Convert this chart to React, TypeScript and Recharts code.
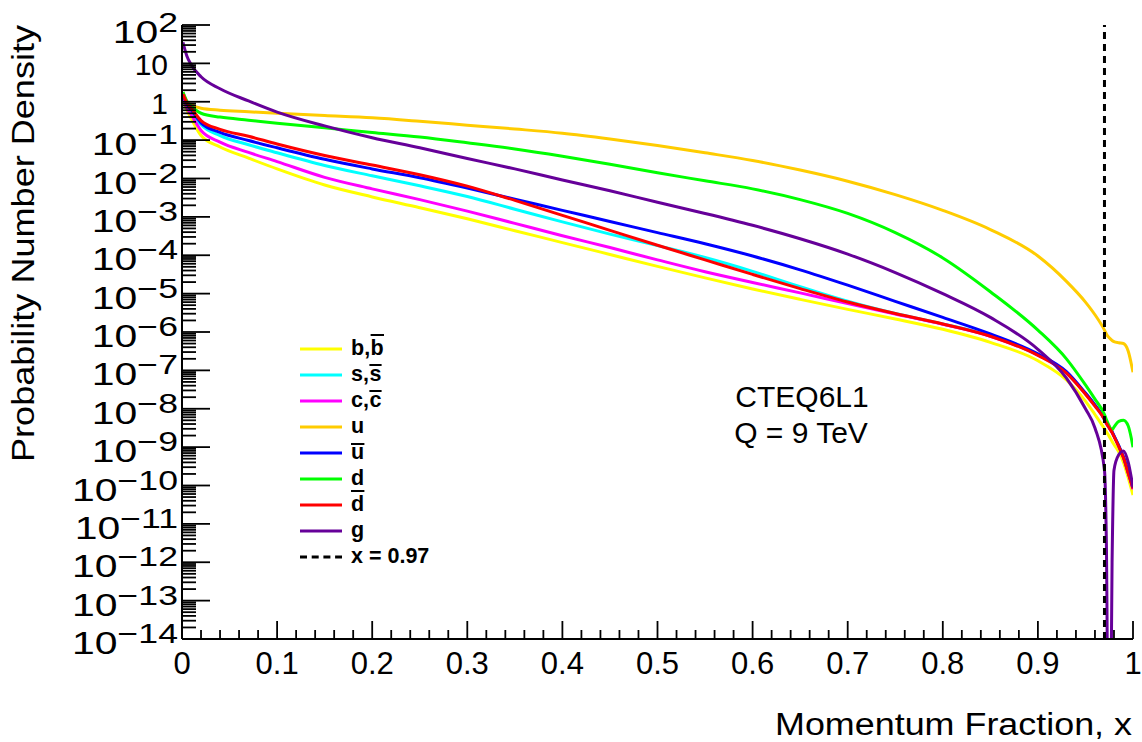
import React from 'react';
import { LineChart, Line, XAxis, YAxis, ReferenceLine, Legend, Customized } from 'recharts';

const FONT = '"Liberation Sans", Arial, Helvetica, sans-serif';

// momentum fraction x
const X = [0.001, 0.005, 0.01, 0.02, 0.04, 0.07, 0.1, 0.15, 0.2, 0.25, 0.3, 0.35, 0.4, 0.45, 0.5, 0.55, 0.6, 0.65, 0.7, 0.75, 0.8, 0.85, 0.9, 0.93, 0.95, 0.96, 0.97, 0.972, 0.975, 0.978, 0.98, 0.985, 0.99, 0.995, 1.0];

// log10 of the probability number density
const B_BAR = [0.1, -0.2, -0.45, -0.88, -1.18, -1.47, -1.75, -2.17, -2.48, -2.76, -3.05, -3.36, -3.67, -3.98, -4.29, -4.59, -4.88, -5.15, -5.41, -5.66, -5.93, -6.27, -6.75, -7.25, -7.8, -8.15, -8.52, -8.6, -8.72, -8.85, -8.93, -9.12, -9.4, -9.8, -10.25];
const S_BAR = [0.15, -0.1, -0.27, -0.6, -0.88, -1.12, -1.33, -1.66, -1.93, -2.19, -2.47, -2.8, -3.13, -3.45, -3.75, -4.06, -4.42, -4.82, -5.2, -5.52, -5.79, -6.1, -6.6, -7.05, -7.6, -7.91, -8.27, -8.37, -8.49, -8.61, -8.71, -8.97, -9.27, -9.66, -10.08];
const C_BAR = [0.12, -0.15, -0.35, -0.75, -1.05, -1.32, -1.56, -1.97, -2.27, -2.55, -2.85, -3.17, -3.49, -3.8, -4.12, -4.43, -4.71, -4.98, -5.26, -5.53, -5.8, -6.11, -6.6, -7.06, -7.61, -7.92, -8.28, -8.38, -8.5, -8.62, -8.72, -8.98, -9.28, -9.68, -10.1];
const U = [0.25, 0.0, -0.08, -0.17, -0.22, -0.26, -0.3, -0.36, -0.42, -0.51, -0.61, -0.71, -0.82, -0.97, -1.14, -1.33, -1.53, -1.78, -2.07, -2.42, -2.83, -3.33, -4.02, -4.68, -5.22, -5.55, -5.95, -6.05, -6.15, -6.22, -6.25, -6.28, -6.3, -6.5, -7.05];
const U_BAR = [0.18, -0.05, -0.22, -0.55, -0.8, -1.01, -1.2, -1.5, -1.75, -1.98, -2.25, -2.54, -2.83, -3.12, -3.41, -3.7, -4.02, -4.38, -4.78, -5.2, -5.62, -6.05, -6.57, -7.03, -7.59, -7.9, -8.26, -8.36, -8.48, -8.6, -8.7, -8.96, -9.26, -9.66, -10.06];
const D = [0.25, 0.02, -0.12, -0.3, -0.4, -0.48, -0.56, -0.68, -0.8, -0.92, -1.07, -1.23, -1.42, -1.63, -1.85, -2.06, -2.27, -2.55, -2.91, -3.41, -4.07, -4.95, -5.95, -6.7, -7.38, -7.75, -8.15, -8.28, -8.45, -8.55, -8.48, -8.33, -8.3, -8.45, -9.0];
const D_BAR = [0.2, -0.02, -0.18, -0.49, -0.72, -0.9, -1.1, -1.4, -1.65, -1.9, -2.2, -2.57, -2.96, -3.35, -3.74, -4.12, -4.5, -4.87, -5.22, -5.52, -5.79, -6.11, -6.61, -7.07, -7.62, -7.93, -8.28, -8.38, -8.5, -8.62, -8.72, -8.98, -9.28, -9.68, -10.08];
const GLUON = [1.55, 1.2, 0.95, 0.65, 0.34, 0.02, -0.27, -0.63, -0.94, -1.2, -1.48, -1.75, -2.04, -2.32, -2.62, -2.91, -3.22, -3.57, -3.97, -4.45, -5.0, -5.62, -6.45, -7.2, -8.0, -8.5, -9.6, -11.5, -20, -12, -9.6, -9.2, -9.1, -9.4, -10.05];

const SERIES = [
  { key: 'bb', vals: B_BAR, color: '#ffff00', parts: [{ t: 'b,', w: 19.6 }, { t: 'b', w: 13.4, bar: -14 }] },
  { key: 'sb', vals: S_BAR, color: '#00ffff', parts: [{ t: 's,', w: 18.4 }, { t: 's', w: 12.2, bar: -10 }] },
  { key: 'cb', vals: C_BAR, color: '#ff00ff', parts: [{ t: 'c,', w: 18.4 }, { t: 'c', w: 12.2, bar: -10 }] },
  { key: 'u', vals: U, color: '#ffcc00', parts: [{ t: 'u', w: 13.4 }] },
  { key: 'ub', vals: U_BAR, color: '#0000ff', parts: [{ t: 'u', w: 13.4, bar: -9 }] },
  { key: 'd', vals: D, color: '#00ff00', parts: [{ t: 'd', w: 13.4 }] },
  { key: 'db', vals: D_BAR, color: '#ff0000', parts: [{ t: 'd', w: 13.4, bar: -14 }] },
  { key: 'g', vals: GLUON, color: '#660099', parts: [{ t: 'g', w: 13.4 }] },
];

const rows = X.map((x, i) => {
  const r: any = { x };
  SERIES.forEach((s) => { r[s.key] = Math.pow(10, s.vals[i]); });
  return r;
});

const X_TICKS = Array.from({ length: 51 }, (_, i) => Math.round(i * 2) / 100);
const Y_DECADES = [-14, -13, -12, -11, -10, -9, -8, -7, -6, -5, -4, -3, -2, -1, 0, 1, 2];
const Y_TICKS: number[] = [];
Y_DECADES.forEach((e) => {
  for (let k = 1; k <= 9; k++) {
    if (e === 2 && k > 1) break;
    Y_TICKS.push(k * Math.pow(10, e));
  }
});

const isMajorX = (v: number) => Math.abs(v * 10 - Math.round(v * 10)) < 1e-6;
const decade = (v: number) => {
  const e = Math.log10(v);
  return Math.abs(e - Math.round(e)) < 1e-6 ? Math.round(e) : null;
};

const YLabel = ({ x, y, n }: any) => {
  if (n === 0 || n === 1) {
    return <text x={x - 14} y={y + 12} textAnchor="end" fontSize={30} fontFamily={FONT} fill="#000">{n === 1 ? '10' : '1'}</text>;
  }
  const sup = n > 0 ? String(n) : '\u2212' + -n;
  // exponent labels come out wider in the original rendering
  return (
    <g transform={`translate(${x - 4},${y + (n === 2 ? 18 : 15)}) scale(1.32,1)`}>
      <text x={0} y={0} textAnchor="end" fontSize={31} fontFamily={FONT} fill="#000">
        10<tspan dy={-11} fontSize={27}>{sup}</tspan>
      </text>
    </g>
  );
};

const LeftTick = ({ x, y, payload }: any) => {
  const n = decade(payload.value);
  return (
    <g>
      <line x1={x} x2={x + (n !== null ? 28 : 14)} y1={y} y2={y} stroke="#000" strokeWidth={1.8} />
      {n !== null && <YLabel x={x} y={y} n={n} />}
    </g>
  );
};

const RightTick = ({ x, y, payload }: any) => {
  const n = decade(payload.value);
  return <line x1={x} x2={x - (n !== null ? 28 : 14)} y1={y} y2={y} stroke="#000" strokeWidth={1.8} />;
};

const BottomTick = ({ x, y, payload }: any) => {
  const major = isMajorX(payload.value);
  return (
    <g>
      <line x1={x} x2={x} y1={y} y2={y - (major ? 18 : 9)} stroke="#000" strokeWidth={1.8} />
      {major && (
        <text x={x} y={y + 35} textAnchor="middle" fontSize={31} fontFamily={FONT} fill="#000">
          {String(Math.round(payload.value * 10) / 10)}
        </text>
      )}
    </g>
  );
};

const TopTick = ({ x, y, payload }: any) => {
  const major = isMajorX(payload.value);
  return <line x1={x} x2={x} y1={y} y2={y + (major ? 18 : 9)} stroke="#000" strokeWidth={1.8} />;
};

const Texts = () => (
  <g fontFamily={FONT} fill="#000">
    <text x={775} y={735} fontSize={31} textLength={357} lengthAdjust="spacingAndGlyphs">Momentum Fraction, x</text>
    <text transform="rotate(-90)" x={-462} y={34} fontSize={31} textLength={437} lengthAdjust="spacingAndGlyphs">Probability Number Density</text>
    <text x={802} y={407} fontSize={30} textAnchor="middle">CTEQ6L1</text>
    <text x={801} y={443} fontSize={30} textAnchor="middle">Q = 9 TeV</text>
  </g>
);

const ROW = 26;
const LegendBox = () => (
  <svg width={200} height={ROW * 9} style={{ display: 'block', overflow: 'visible' }}>
    <g fontFamily={FONT} fontWeight="bold" fontSize={21.5} fill="#000">
      {SERIES.map((s, i) => {
        const cy = 13 + i * ROW;
        let cx = 51;
        return (
          <g key={s.key}>
            <line x1={0} x2={42} y1={cy} y2={cy} stroke={s.color} strokeWidth={3} />
            {s.parts.map((p: any, j: number) => {
              const px = cx;
              cx += p.w;
              return (
                <g key={j}>
                  <text x={px} y={cy + 6}>{p.t}</text>
                  {p.bar !== undefined && (
                    <line x1={px} x2={px + p.w} y1={cy + p.bar} y2={cy + p.bar} stroke="#000" strokeWidth={2} />
                  )}
                </g>
              );
            })}
          </g>
        );
      })}
      <line x1={0} x2={42} y1={13 + 8 * ROW} y2={13 + 8 * ROW} stroke="#000" strokeWidth={3} strokeDasharray="7 4.7" />
      <text x={51} y={13 + 8 * ROW + 6}>x = 0.97</text>
    </g>
  </svg>
);

export default function App() {
  return (
    <div style={{ position: 'absolute', left: 0, top: 0, width: 1142, height: 742, background: '#fff' }}>
      <LineChart width={1142} height={742} data={rows} margin={{ top: 25, right: 9, bottom: 0, left: 0 }}>
        <XAxis xAxisId="b" dataKey="x" type="number" domain={[0, 1]} allowDataOverflow ticks={X_TICKS} interval={0}
          height={103} tickSize={0} tickMargin={0} tickLine={false} tick={<BottomTick />} axisLine={{ stroke: '#000', strokeWidth: 2 }} />
        <XAxis xAxisId="t" orientation="top" dataKey="x" type="number" domain={[0, 1]} allowDataOverflow ticks={X_TICKS} interval={0}
          height={0} tickSize={0} tickMargin={0} tickLine={false} tick={<TopTick />} axisLine={{ stroke: '#000', strokeWidth: 2 }} />
        <YAxis yAxisId="l" scale="log" type="number" domain={[1e-14, 100]} allowDataOverflow ticks={Y_TICKS} interval={0}
          width={182} tickSize={0} tickMargin={0} tickLine={false} tick={<LeftTick />} axisLine={{ stroke: '#000', strokeWidth: 2 }} />
        <YAxis yAxisId="r" orientation="right" scale="log" type="number" domain={[1e-14, 100]} allowDataOverflow ticks={Y_TICKS} interval={0}
          width={0} tickSize={0} tickMargin={0} tickLine={false} tick={<RightTick />} axisLine={{ stroke: '#000', strokeWidth: 2 }} />
        {SERIES.map((s) => (
          <Line key={s.key} xAxisId="b" yAxisId="l" type="monotone" dataKey={s.key} stroke={s.color} strokeWidth={3}
            dot={false} activeDot={false} isAnimationActive={false} />
        ))}
        <ReferenceLine xAxisId="b" yAxisId="l" x={0.97} stroke="#000" strokeWidth={3} strokeDasharray="7 5" />
        <Customized component={Texts} />
        <Legend layout="vertical" align="center" verticalAlign="middle" content={() => <LegendBox />}
          wrapperStyle={{ left: 300, top: 336, width: 200, height: 'auto' }} />
      </LineChart>
    </div>
  );
}
